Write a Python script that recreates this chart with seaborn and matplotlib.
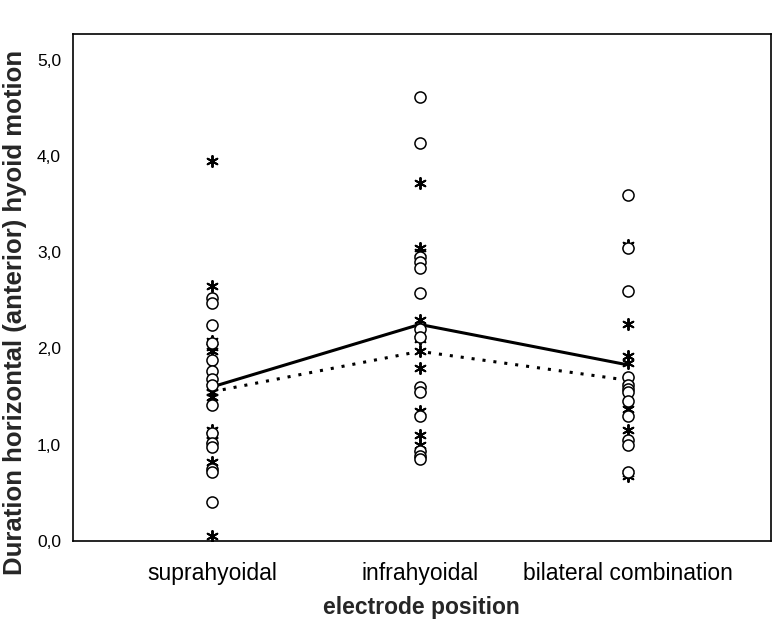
import numpy as np
import pandas as pd
import matplotlib.pyplot as plt
import seaborn as sns

# electrode positions on the x axis
positions = ["suprahyoidal", "infrahyoidal", "bilateral combination"]

# individual values (circles / asterisks)
circle_supra = [2.52, 2.47, 2.24, 2.06, 1.88, 1.77, 1.68, 1.62, 1.41, 1.12, 1.02, 0.98, 0.75, 0.72, 0.40]
circle_infra = [4.62, 4.14, 2.95, 2.90, 2.84, 2.58, 2.20, 2.12, 1.60, 1.55, 1.30, 0.93, 0.88, 0.85]
circle_bilat = [3.60, 3.05, 2.60, 1.70, 1.62, 1.58, 1.55, 1.45, 1.30, 1.05, 1.00, 0.72]

star_supra = [3.95, 2.65, 2.08, 2.02, 1.97, 1.60, 1.55, 1.50, 1.15, 1.10, 1.05, 0.82, 0.05]
star_infra = [3.72, 3.05, 3.00, 2.30, 2.10, 1.97, 1.80, 1.58, 1.35, 1.10, 1.00, 0.90]
star_bilat = [3.08, 2.25, 1.92, 1.85, 1.67, 1.37, 1.15, 0.70, 0.67]

# group means shown as lines
mean_solid = [1.60, 2.25, 1.83]
mean_dotted = [1.55, 1.97, 1.67]


def long_table(groups):
    rows = []
    for pos, vals in zip(positions, groups):
        rows += [(pos, v) for v in vals]
    return pd.DataFrame(rows, columns=["position", "duration"])


circles = long_table([circle_supra, circle_infra, circle_bilat])
stars = long_table([star_supra, star_infra, star_bilat])
means = pd.DataFrame({"x": np.arange(len(positions)), "solid": mean_solid, "dotted": mean_dotted})

sns.set_style("white")
plt.rcParams["font.family"] = ["Liberation Sans", "DejaVu Sans"]

fig = plt.figure(figsize=(7.74, 6.31), dpi=100)
ax = fig.add_axes([0.094, 0.143, 0.902, 0.803])

sns.stripplot(data=stars, x="position", y="duration", order=positions, jitter=False,
              marker=(6, 2, 0), color="black", size=8, linewidth=1.4, ax=ax)
sns.stripplot(data=circles, x="position", y="duration", order=positions, jitter=False,
              marker="o", color="white", edgecolor="black", linewidth=1.1, size=8, ax=ax)

sns.lineplot(data=means, x="x", y="solid", color="black", linewidth=2.2, ax=ax)
sns.lineplot(data=means, x="x", y="dotted", color="black", linewidth=2.2,
             linestyle=(0, (1, 2.6)), ax=ax)

ax.set_xlim(-0.67, 2.69)
ax.set_ylim(0, 5.27)
ax.set_yticks([0, 1, 2, 3, 4, 5])
ax.set_yticklabels(["0,0", "1,0", "2,0", "3,0", "4,0", "5,0"])
ax.set_xticks(range(len(positions)))
ax.set_xticklabels(positions)
ax.tick_params(axis="both", direction="out", length=5, width=1, color="black",
               labelcolor="black")
ax.tick_params(axis="y", labelsize=12.5)
ax.tick_params(axis="x", labelsize=16.5, pad=10)

for side in ["left", "bottom", "top", "right"]:
    ax.spines[side].set_visible(True)
    ax.spines[side].set_color("black")
    ax.spines[side].set_linewidth(1.2)

ax.set_xlabel("electrode position", fontsize=16.5, fontweight="bold", labelpad=8)
ax.set_ylabel("Duration horizontal (anterior) hyoid motion", fontsize=18.5,
              fontweight="bold")
ax.yaxis.set_label_coords(-0.066, 0.45)

fig.savefig("out.png", dpi=100, facecolor="white")
